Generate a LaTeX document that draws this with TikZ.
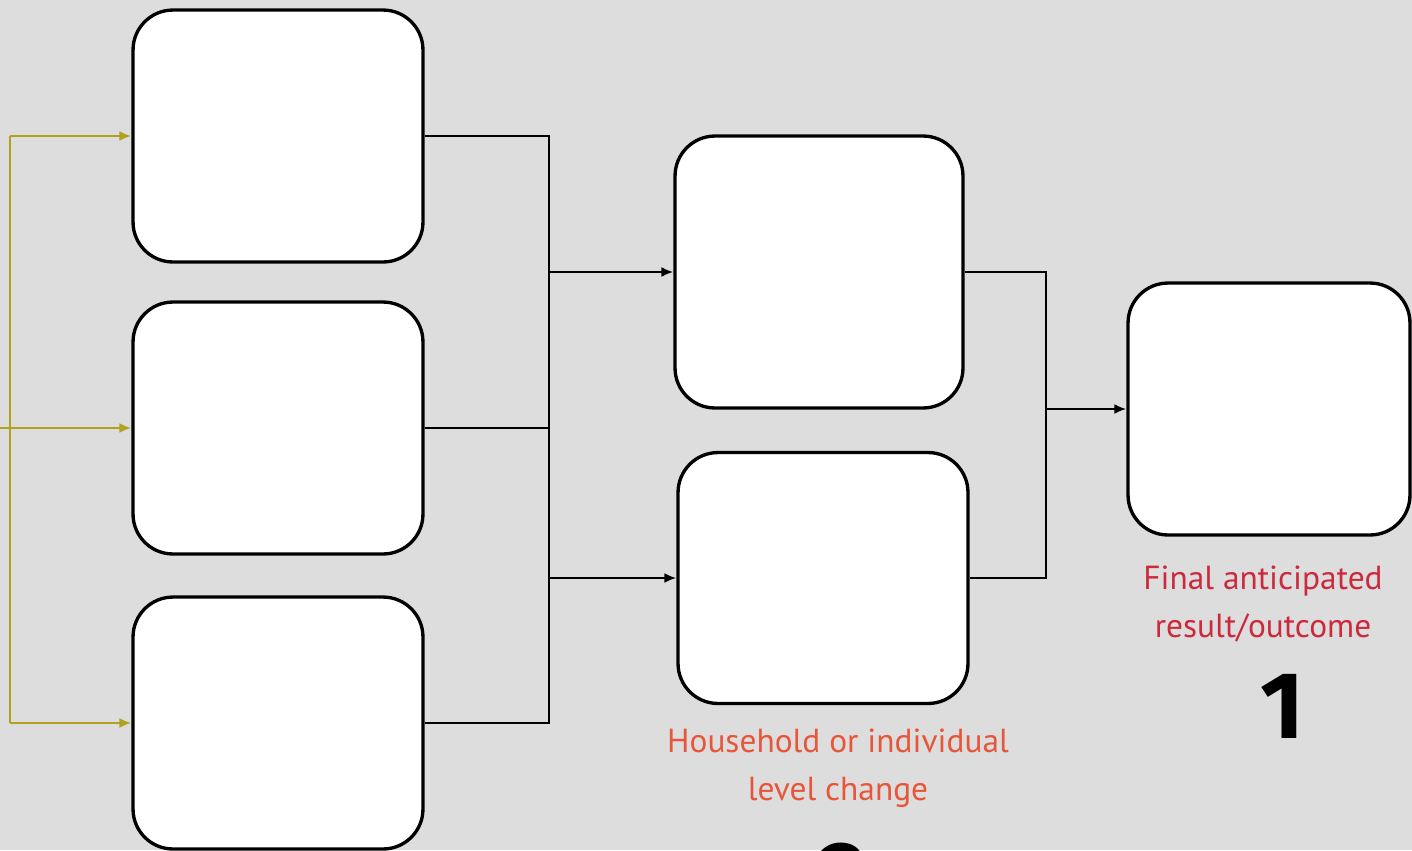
\documentclass[tikz,border=0pt]{standalone}
\usepackage{fontspec}
\setmainfont{PT Sans}
\newfontfamily\digitfont{Fira Sans}
\usetikzlibrary{positioning, arrows.meta}

\definecolor{slide}{RGB}{221,221,221}
\definecolor{feedline}{RGB}{176,162,28}
\definecolor{notered}{RGB}{232,86,58}
\definecolor{outred}{RGB}{204,42,60}

\tikzset{
	box/.style={draw, line width=1.9pt, fill=white, rounded corners=0.8cm,
		minimum width=5.8cm, minimum height=5.04cm},
	link/.style={line width=1.6pt},
	arrow/.style={link, -{Latex[length=2.4mm, width=2mm]}},
	feed/.style={draw=feedline, line width=1.5pt},
	feedarrow/.style={feed, -{Latex[length=2.4mm, width=2mm]}},
	note/.style={align=center, font=\fontsize{19}{27}\selectfont},
	stepno/.style={font=\digitfont\fontsize{54}{54}\selectfont\bfseries},
}

\begin{document}
\begin{tikzpicture}[x=0.02cm, y=-0.02cm]
	\fill[slide] (0,0) rectangle (1412,850);
	\useasboundingbox (0,0) rectangle (1412,850);

	% inputs
	\node[box] (a1) at (278,136) {};
	\node[box] (a2) at (278,428) {};
	\node[box] (a3) at (278,723) {};

	% household level
	\node[box, minimum width=5.76cm, minimum height=5.44cm] (b1) at (819,272) {};
	\node[box, minimum height=5.02cm] (b2) at (823,578) {};

	% outcome
	\node[box, minimum width=5.64cm] (c) at (1269,409) {};

	\coordinate (j0) at (10,0);
	\coordinate (j1) at (549,0);
	\coordinate (j2) at (1046,0);
	\coordinate (edge) at (0,428);

	% feeding lines on the left
	\draw[feed] (j0 |- a1.west) -- (j0 |- a3.west);
	\draw[feed] (edge) -- (j0 |- a2.west);
	\draw[feedarrow] (j0 |- a1.west) -- (a1.west);
	\draw[feedarrow] (j0 |- a2.west) -- (a2.west);
	\draw[feedarrow] (j0 |- a3.west) -- (a3.west);

	% inputs -> household level
	\draw[link] (a1.east) -| (j1 |- a3.east) -- (a3.east);
	\draw[link] (a2.east) -- (j1 |- a2.east);
	\draw[arrow] (j1 |- b1.west) -- (b1.west);
	\draw[arrow] (j1 |- b2.west) -- (b2.west);

	% household level -> outcome
	\draw[link] (b1.east) -| (j2 |- b2.east) -- (b2.east);
	\draw[arrow] (j2 |- c.west) -- (c.west);

	\node[note, text=notered] (lvl) at (838,768) {Household or individual\\level change};
	\node[note, text=outred] (fin) at (1263,604) {Final anticipated\\result/outcome};
	\node[stepno] (n1) at (1282,706) {1};
	\node[stepno] (n2) at (843,876) {2};
\end{tikzpicture}
\end{document}
